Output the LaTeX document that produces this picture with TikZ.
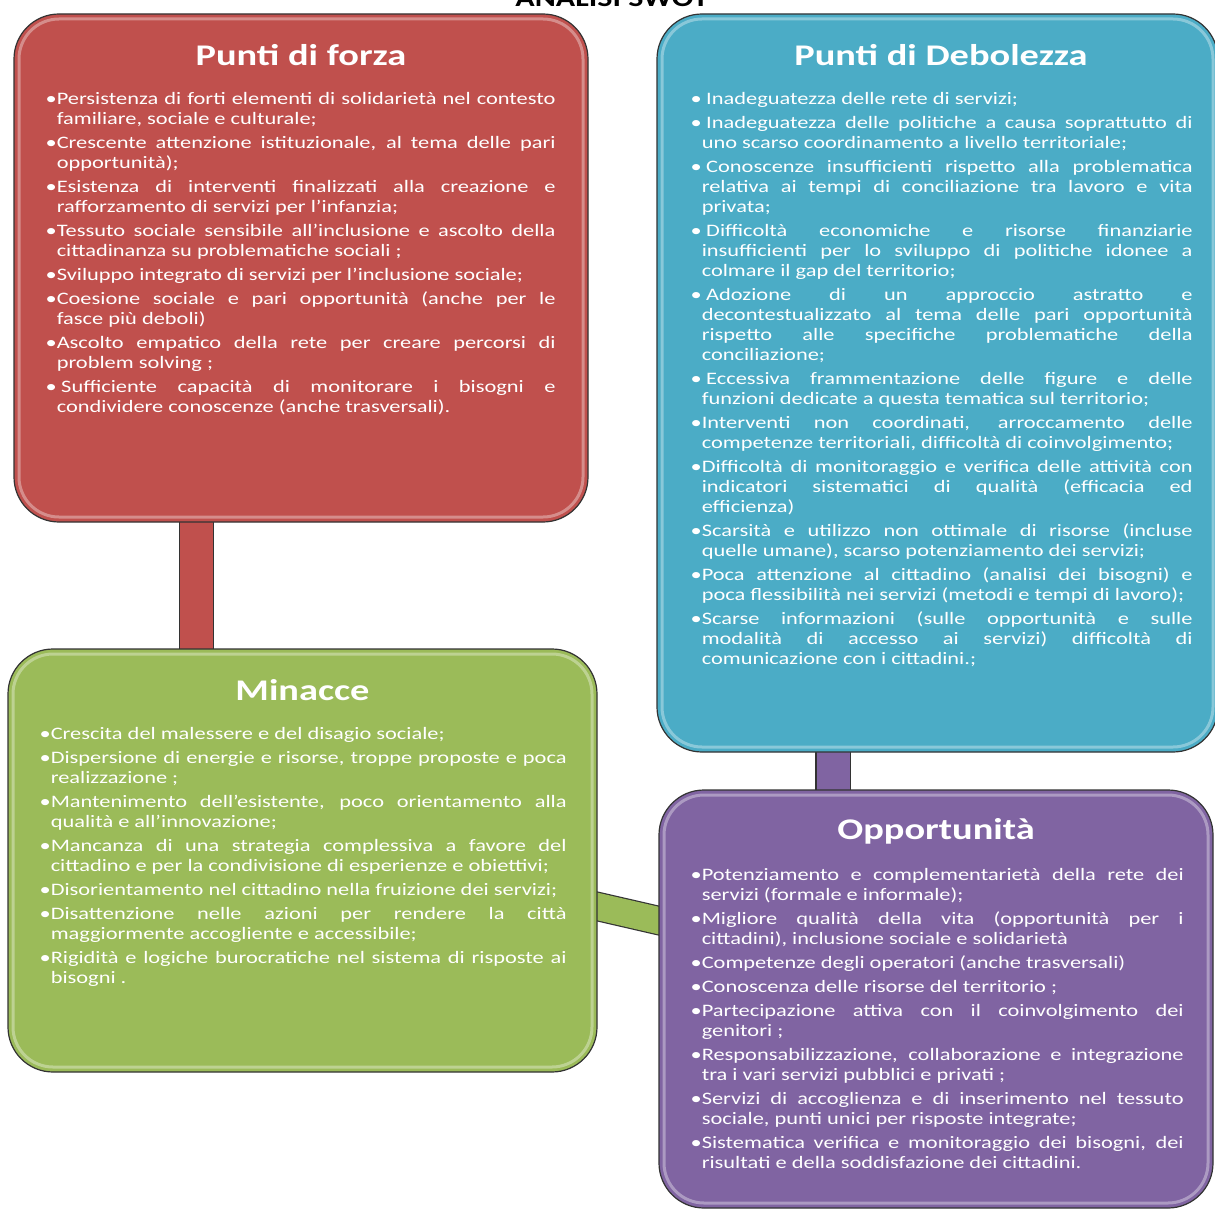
\documentclass[tikz,border=0pt]{standalone}
\usepackage{fontspec}
\setmainfont{Carlito}
\usepackage{graphicx}
\usetikzlibrary{positioning,calc}
\definecolor{cRed}{HTML}{C0504D}
\definecolor{cBlue}{HTML}{4BACC6}
\definecolor{cGreen}{HTML}{9BBB59}
\definecolor{cPurple}{HTML}{8064A2}
\pgfdeclarelayer{bg}
\pgfsetlayers{bg,main}
\newlength\bulw
\newcommand\voce{\par\hangindent=\bulw\hangafter=1\noindent •}
\newcommand\spazio{\kern3.5pt}
\newcommand\testo[2]{\scalebox{1.28}[1]{\begin{minipage}[t]{#1}\fontsize{17.5}{20}\selectfont
	\settowidth\bulw{•}\setlength\parskip{4pt}\hyphenpenalty=10000\tolerance=10000\emergencystretch=20pt #2\end{minipage}}}
\tikzset{
	swot/.style={draw=black!80, line width=1.2pt, fill=#1, rounded corners=45pt, inner sep=0pt,
		path picture={\draw[white, opacity=.35, line width=3pt, rounded corners=40pt]
			([shift={(5pt,-5pt)}]path picture bounding box.north west) rectangle
			([shift={(-5pt,5pt)}]path picture bounding box.south east);}},
	titolo/.style={text=white, inner sep=0pt, font=\fontsize{30}{36}\selectfont\bfseries},
	corpo/.style={text=white, inner sep=0pt, anchor=north west},
	conn/.style={draw=black!80, line width=1.2pt, double=#1, double distance=33pt,
		shorten <=-12pt, shorten >=-12pt},
}
\begin{document}
\begin{tikzpicture}[x=1pt, y=1pt]
	\useasboundingbox (0,0) rectangle (1215,-1209);
	\node[anchor=base, font=\fontsize{25}{30}\selectfont\bfseries] (swot) at (612,-7) {\scalebox{1.28}[1]{ANALISI SWOT}};
	% le quattro caselle
	\node[swot=cRed, minimum width=574pt, minimum height=508pt] (forza) at (301,-268) {};
	\node[swot=cBlue, minimum width=561pt, minimum height=738pt] (debol) at (937.5,-383) {};
	\node[swot=cGreen, minimum width=589pt, minimum height=423pt] (minacce) at (302.5,-860.5) {};
	\node[swot=cPurple, minimum width=554pt, minimum height=418pt] (opport) at (936,-999) {};
	% collegamenti
	\begin{pgfonlayer}{bg}
		\draw[conn=cRed] ([xshift=-104.5pt]forza.south) -- ([xshift=-104.5pt]forza.south |- minacce.north);
		\draw[conn=cPurple] ([xshift=-104.5pt]debol.south) -- ([xshift=-104.5pt]debol.south |- opport.north);
		\draw[conn=cGreen, double distance=27pt] ([yshift=-46pt]minacce.east) -- ([yshift=78.5pt]opport.west);
	\end{pgfonlayer}
	% titoli
	\node[titolo] (forzaTit) at ([yshift=-42pt]forza.north) {\scalebox{1.28}[1]{Punti di forza}};
	\node[titolo] (debolTit) at ([xshift=3.5pt,yshift=-42pt]debol.north) {\scalebox{1.28}[1]{Punti di Debolezza}};
	\node[titolo] (minacceTit) at ([yshift=-42pt]minacce.north) {\scalebox{1.28}[1]{Minacce}};
	\node[titolo] (opportTit) at ([yshift=-42pt]opport.north) {\scalebox{1.28}[1]{Opportunità}};
	% testi
	\node[corpo] (forzaTxt) at ([shift={(32pt,-79pt)}]forza.north west) {\testo{398.4pt}{%
		\voce Persistenza di forti elementi di solidarietà nel contesto\linebreak familiare, sociale e culturale;
		\voce Crescente attenzione istituzionale, al tema delle pari\linebreak opportunità);
		\voce Esistenza di interventi finalizzati alla creazione e\linebreak rafforzamento di servizi per l’infanzia;
		\voce Tessuto sociale sensibile all’inclusione e ascolto della\linebreak cittadinanza su problematiche sociali ;
		\voce Sviluppo integrato di servizi per l’inclusione sociale;
		\voce Coesione sociale e pari opportunità (anche per le\linebreak fasce più deboli)
		\voce Ascolto empatico della rete per creare percorsi di\linebreak problem solving ;
		\voce\spazio Sufficiente capacità di monitorare i bisogni e\linebreak condividere conoscenze (anche trasversali).}};
	\node[corpo] (debolTxt) at ([shift={(34pt,-79pt)}]debol.north west) {\testo{392.2pt}{%
		\voce\spazio Inadeguatezza delle rete di servizi;
		\voce\spazio Inadeguatezza delle politiche a causa soprattutto di\linebreak uno scarso coordinamento a livello territoriale;
		\voce\spazio Conoscenze insufficienti rispetto alla problematica\linebreak relativa ai tempi di conciliazione tra lavoro e vita\linebreak privata;
		\voce\spazio Difficoltà economiche e risorse finanziarie\linebreak insufficienti per lo sviluppo di politiche idonee a\linebreak colmare il gap del territorio;
		\voce\spazio Adozione di un approccio astratto e\linebreak decontestualizzato al tema delle pari opportunità\linebreak rispetto alle specifiche problematiche della\linebreak conciliazione;
		\voce\spazio Eccessiva frammentazione delle figure e delle\linebreak funzioni dedicate a questa tematica sul territorio;
		\voce Interventi non coordinati, arroccamento delle\linebreak competenze territoriali, difficoltà di coinvolgimento;
		\voce Difficoltà di monitoraggio e verifica delle attività con\linebreak indicatori sistematici di qualità (efficacia ed\linebreak efficienza)
		\voce Scarsità e utilizzo non ottimale di risorse (incluse\linebreak quelle umane), scarso potenziamento dei servizi;
		\voce Poca attenzione al cittadino (analisi dei bisogni) e\linebreak poca flessibilità nei servizi (metodi e tempi di lavoro);
		\voce Scarse informazioni (sulle opportunità e sulle\linebreak modalità di accesso ai servizi) difficoltà di\linebreak comunicazione con i cittadini.;}};
	\node[corpo] (minacceTxt) at ([shift={(32pt,-79pt)}]minacce.north west) {\testo{411.7pt}{%
		\voce Crescita del malessere e del disagio sociale;
		\voce Dispersione di energie e risorse, troppe proposte e poca\linebreak realizzazione ;
		\voce Mantenimento dell’esistente, poco orientamento alla\linebreak qualità e all’innovazione;
		\voce Mancanza di una strategia complessiva a favore del\linebreak cittadino e per la condivisione di esperienze e obiettivi;
		\voce Disorientamento nel cittadino nella fruizione dei servizi;
		\voce Disattenzione nelle azioni per rendere la città\linebreak maggiormente accogliente e accessibile;
		\voce Rigidità e logiche burocratiche nel sistema di risposte ai\linebreak bisogni .}};
	\node[corpo] (opportTxt) at ([shift={(32pt,-79pt)}]opport.north west) {\testo{385.2pt}{%
		\voce Potenziamento e complementarietà della rete dei\linebreak servizi (formale e informale);
		\voce Migliore qualità della vita (opportunità per i\linebreak cittadini), inclusione sociale e solidarietà
		\voce Competenze degli operatori (anche trasversali)
		\voce Conoscenza delle risorse del territorio ;
		\voce Partecipazione attiva con il coinvolgimento dei\linebreak genitori ;
		\voce Responsabilizzazione, collaborazione e integrazione\linebreak tra i vari servizi pubblici e privati ;
		\voce Servizi di accoglienza e di inserimento nel tessuto\linebreak sociale, punti unici per risposte integrate;
		\voce Sistematica verifica e monitoraggio dei bisogni, dei\linebreak risultati e della soddisfazione dei cittadini.}};
\end{tikzpicture}
\end{document}
